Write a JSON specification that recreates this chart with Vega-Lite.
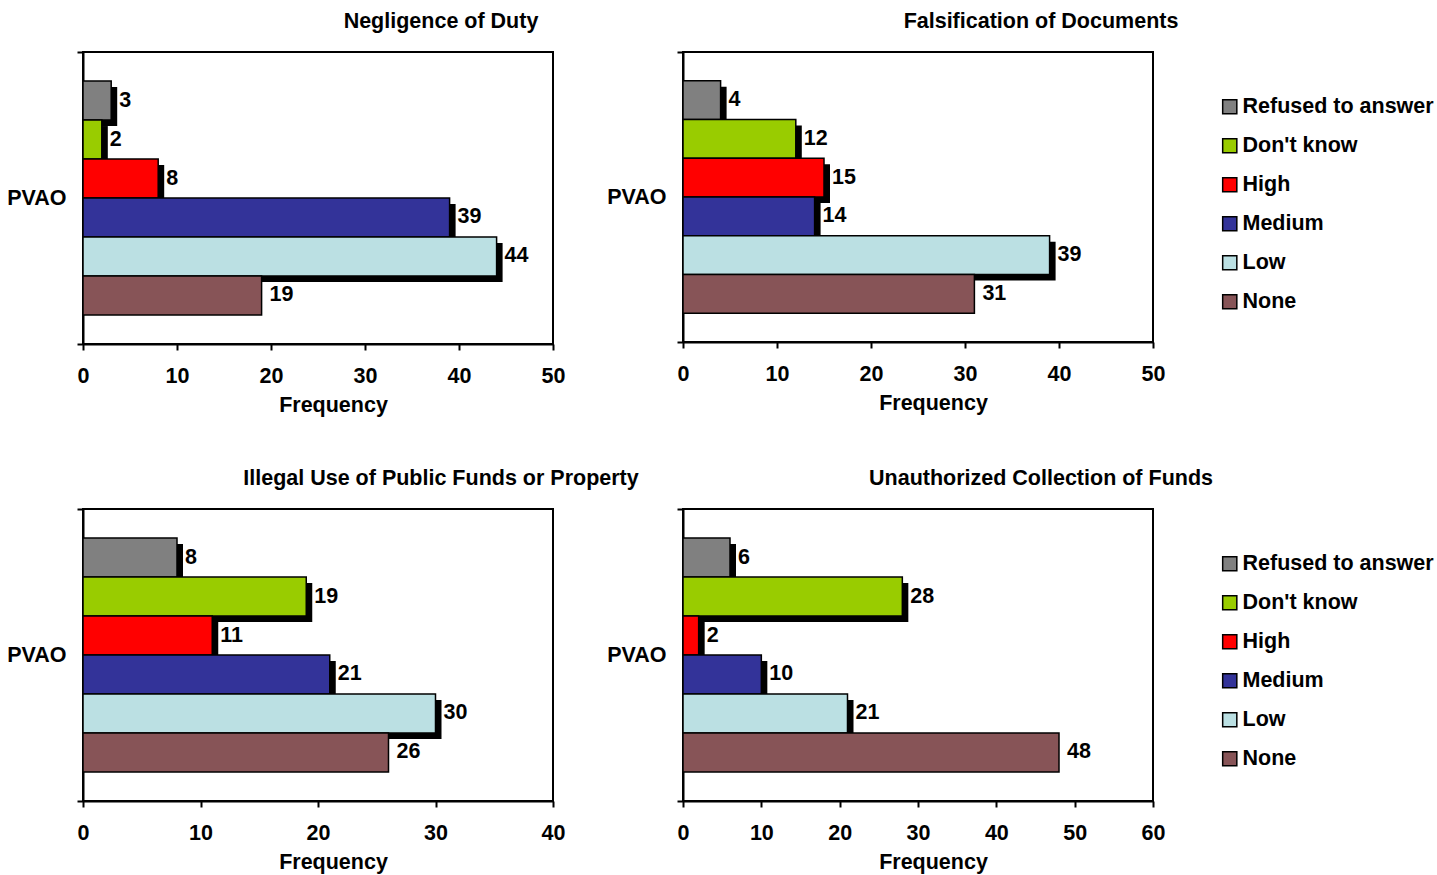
{
  "$schema": "https://vega.github.io/schema/vega-lite/v6.json",
  "padding": {"left": 5, "top": 9, "right": 0, "bottom": 0},
  "config": {
    "font": "Liberation Sans",
    "view": {"stroke": "black", "strokeWidth": 2},
    "axis": {"domainColor": "black", "domainWidth": 2, "tickColor": "black", "tickWidth": 2, "tickSize": 6, "labelFont": "Liberation Sans", "labelFontSize": 21.5, "labelFontWeight": "bold", "labelColor": "black", "labelFlush": false, "titleFont": "Liberation Sans", "titleFontSize": 21.5, "titleFontWeight": "bold", "titleColor": "black", "grid": false},
    "title": {"font": "Liberation Sans", "fontSize": 21.5, "fontWeight": "bold", "color": "black", "anchor": "middle", "frame": "group", "dx": 123, "offset": 9},
    "legend": {"orient": "none", "legendX": 536, "legendY": 44, "title": null, "symbolType": "square", "symbolSize": 200, "symbolStrokeColor": "black", "symbolStrokeWidth": 1.5, "symbolOpacity": 1, "labelFont": "Liberation Sans", "labelFontSize": 21.5, "labelFontWeight": "bold", "labelColor": "black", "labelLimit": 0, "rowPadding": 16, "labelOffset": 2}
  },
  "datasets": {
    "d": [
      {"panel": "Negligence of Duty", "group": "PVAO", "response": "Refused to answer", "frequency": 3},
      {"panel": "Negligence of Duty", "group": "PVAO", "response": "Don't know", "frequency": 2},
      {"panel": "Negligence of Duty", "group": "PVAO", "response": "High", "frequency": 8},
      {"panel": "Negligence of Duty", "group": "PVAO", "response": "Medium", "frequency": 39},
      {"panel": "Negligence of Duty", "group": "PVAO", "response": "Low", "frequency": 44},
      {"panel": "Negligence of Duty", "group": "PVAO", "response": "None", "frequency": 19},
      {"panel": "Falsification of Documents", "group": "PVAO", "response": "Refused to answer", "frequency": 4},
      {"panel": "Falsification of Documents", "group": "PVAO", "response": "Don't know", "frequency": 12},
      {"panel": "Falsification of Documents", "group": "PVAO", "response": "High", "frequency": 15},
      {"panel": "Falsification of Documents", "group": "PVAO", "response": "Medium", "frequency": 14},
      {"panel": "Falsification of Documents", "group": "PVAO", "response": "Low", "frequency": 39},
      {"panel": "Falsification of Documents", "group": "PVAO", "response": "None", "frequency": 31},
      {"panel": "Illegal Use of Public Funds or Property", "group": "PVAO", "response": "Refused to answer", "frequency": 8},
      {"panel": "Illegal Use of Public Funds or Property", "group": "PVAO", "response": "Don't know", "frequency": 19},
      {"panel": "Illegal Use of Public Funds or Property", "group": "PVAO", "response": "High", "frequency": 11},
      {"panel": "Illegal Use of Public Funds or Property", "group": "PVAO", "response": "Medium", "frequency": 21},
      {"panel": "Illegal Use of Public Funds or Property", "group": "PVAO", "response": "Low", "frequency": 30},
      {"panel": "Illegal Use of Public Funds or Property", "group": "PVAO", "response": "None", "frequency": 26},
      {"panel": "Unauthorized Collection of Funds", "group": "PVAO", "response": "Refused to answer", "frequency": 6},
      {"panel": "Unauthorized Collection of Funds", "group": "PVAO", "response": "Don't know", "frequency": 28},
      {"panel": "Unauthorized Collection of Funds", "group": "PVAO", "response": "High", "frequency": 2},
      {"panel": "Unauthorized Collection of Funds", "group": "PVAO", "response": "Medium", "frequency": 10},
      {"panel": "Unauthorized Collection of Funds", "group": "PVAO", "response": "Low", "frequency": 21},
      {"panel": "Unauthorized Collection of Funds", "group": "PVAO", "response": "None", "frequency": 48}
    ]
  },
  "data": {"name": "d"},
  "columns": 2,
  "spacing": {"row": 165, "column": 130},
  "bounds": "flush",
  "resolve": {"scale": {"color": "independent"}, "legend": {"color": "independent"}},
  "concat": [
    {
      "width": 470, "height": 292,
      "title": "Negligence of Duty",
      "transform": [{"filter": "datum.panel === 'Negligence of Duty'"}],
      "resolve": {"scale": {"y": "independent"}},
      "layer": [
        {"mark": {"type": "point", "opacity": 0}, "encoding": {"y": {"field": "group", "type": "nominal", "scale": {"paddingInner": 0, "paddingOuter": 0}, "axis": {"title": null, "tickBand": "extent", "labelPadding": 11, "labelAngle": 0}}}},
        {
          "encoding": {
            "x": {"field": "frequency", "type": "quantitative", "scale": {"domain": [0, 50]}, "axis": {"values": [0, 10, 20, 30, 40, 50], "title": "Frequency", "labelPadding": 15, "titlePadding": 8, "titleX": 250}},
            "y": {"field": "response", "type": "nominal", "sort": ["Refused to answer", "Don't know", "High", "Medium", "Low", "None"], "scale": {"domain": ["Refused to answer", "Don't know", "High", "Medium", "Low", "None"], "paddingInner": 0, "paddingOuter": 0.745}, "axis": null}
          },
          "layer": [
            {"transform": [{"filter": "datum.response !== 'None'"}], "mark": {"type": "bar", "color": "black", "xOffset": 6, "yOffset": 6}},
            {"mark": {"type": "bar", "stroke": "black", "strokeWidth": 1.5}, "encoding": {"color": {"field": "response", "type": "nominal", "scale": {"domain": ["Refused to answer", "Don't know", "High", "Medium", "Low", "None"], "range": ["#808080", "#99CC00", "#FF0000", "#333399", "#BBE0E3", "#875457"]}, "legend": null}}},
            {"mark": {"type": "text", "align": "left", "baseline": "middle", "dx": 8, "fontSize": 21.5, "fontWeight": "bold", "color": "black"}, "encoding": {"text": {"field": "frequency", "type": "quantitative"}}}
          ]
        }
      ]
    },
    {
      "width": 470, "height": 290,
      "title": "Falsification of Documents",
      "transform": [{"filter": "datum.panel === 'Falsification of Documents'"}],
      "resolve": {"scale": {"y": "independent"}},
      "layer": [
        {"mark": {"type": "point", "opacity": 0}, "encoding": {"y": {"field": "group", "type": "nominal", "scale": {"paddingInner": 0, "paddingOuter": 0}, "axis": {"title": null, "tickBand": "extent", "labelPadding": 11, "labelAngle": 0}}}},
        {
          "encoding": {
            "x": {"field": "frequency", "type": "quantitative", "scale": {"domain": [0, 50]}, "axis": {"values": [0, 10, 20, 30, 40, 50], "title": "Frequency", "labelPadding": 15, "titlePadding": 8, "titleX": 250}},
            "y": {"field": "response", "type": "nominal", "sort": ["Refused to answer", "Don't know", "High", "Medium", "Low", "None"], "scale": {"domain": ["Refused to answer", "Don't know", "High", "Medium", "Low", "None"], "paddingInner": 0, "paddingOuter": 0.745}, "axis": null}
          },
          "layer": [
            {"transform": [{"filter": "datum.response !== 'None'"}], "mark": {"type": "bar", "color": "black", "xOffset": 6, "yOffset": 6}},
            {"mark": {"type": "bar", "stroke": "black", "strokeWidth": 1.5}, "encoding": {"color": {"field": "response", "type": "nominal", "scale": {"domain": ["Refused to answer", "Don't know", "High", "Medium", "Low", "None"], "range": ["#808080", "#99CC00", "#FF0000", "#333399", "#BBE0E3", "#875457"]}, "legend": {}}}},
            {"mark": {"type": "text", "align": "left", "baseline": "middle", "dx": 8, "fontSize": 21.5, "fontWeight": "bold", "color": "black"}, "encoding": {"text": {"field": "frequency", "type": "quantitative"}}}
          ]
        }
      ]
    },
    {
      "width": 470, "height": 292,
      "title": "Illegal Use of Public Funds or Property",
      "transform": [{"filter": "datum.panel === 'Illegal Use of Public Funds or Property'"}],
      "resolve": {"scale": {"y": "independent"}},
      "layer": [
        {"mark": {"type": "point", "opacity": 0}, "encoding": {"y": {"field": "group", "type": "nominal", "scale": {"paddingInner": 0, "paddingOuter": 0}, "axis": {"title": null, "tickBand": "extent", "labelPadding": 11, "labelAngle": 0}}}},
        {
          "encoding": {
            "x": {"field": "frequency", "type": "quantitative", "scale": {"domain": [0, 40]}, "axis": {"values": [0, 10, 20, 30, 40], "title": "Frequency", "labelPadding": 15, "titlePadding": 8, "titleX": 250}},
            "y": {"field": "response", "type": "nominal", "sort": ["Refused to answer", "Don't know", "High", "Medium", "Low", "None"], "scale": {"domain": ["Refused to answer", "Don't know", "High", "Medium", "Low", "None"], "paddingInner": 0, "paddingOuter": 0.745}, "axis": null}
          },
          "layer": [
            {"transform": [{"filter": "datum.response !== 'None'"}], "mark": {"type": "bar", "color": "black", "xOffset": 6, "yOffset": 6}},
            {"mark": {"type": "bar", "stroke": "black", "strokeWidth": 1.5}, "encoding": {"color": {"field": "response", "type": "nominal", "scale": {"domain": ["Refused to answer", "Don't know", "High", "Medium", "Low", "None"], "range": ["#808080", "#99CC00", "#FF0000", "#333399", "#BBE0E3", "#875457"]}, "legend": null}}},
            {"mark": {"type": "text", "align": "left", "baseline": "middle", "dx": 8, "fontSize": 21.5, "fontWeight": "bold", "color": "black"}, "encoding": {"text": {"field": "frequency", "type": "quantitative"}}}
          ]
        }
      ]
    },
    {
      "width": 470, "height": 292,
      "title": "Unauthorized Collection of Funds",
      "transform": [{"filter": "datum.panel === 'Unauthorized Collection of Funds'"}],
      "resolve": {"scale": {"y": "independent"}},
      "layer": [
        {"mark": {"type": "point", "opacity": 0}, "encoding": {"y": {"field": "group", "type": "nominal", "scale": {"paddingInner": 0, "paddingOuter": 0}, "axis": {"title": null, "tickBand": "extent", "labelPadding": 11, "labelAngle": 0}}}},
        {
          "encoding": {
            "x": {"field": "frequency", "type": "quantitative", "scale": {"domain": [0, 60]}, "axis": {"values": [0, 10, 20, 30, 40, 50, 60], "title": "Frequency", "labelPadding": 15, "titlePadding": 8, "titleX": 250}},
            "y": {"field": "response", "type": "nominal", "sort": ["Refused to answer", "Don't know", "High", "Medium", "Low", "None"], "scale": {"domain": ["Refused to answer", "Don't know", "High", "Medium", "Low", "None"], "paddingInner": 0, "paddingOuter": 0.745}, "axis": null}
          },
          "layer": [
            {"transform": [{"filter": "datum.response !== 'None'"}], "mark": {"type": "bar", "color": "black", "xOffset": 6, "yOffset": 6}},
            {"mark": {"type": "bar", "stroke": "black", "strokeWidth": 1.5}, "encoding": {"color": {"field": "response", "type": "nominal", "scale": {"domain": ["Refused to answer", "Don't know", "High", "Medium", "Low", "None"], "range": ["#808080", "#99CC00", "#FF0000", "#333399", "#BBE0E3", "#875457"]}, "legend": {}}}},
            {"mark": {"type": "text", "align": "left", "baseline": "middle", "dx": 8, "fontSize": 21.5, "fontWeight": "bold", "color": "black"}, "encoding": {"text": {"field": "frequency", "type": "quantitative"}}}
          ]
        }
      ]
    }
  ]
}
